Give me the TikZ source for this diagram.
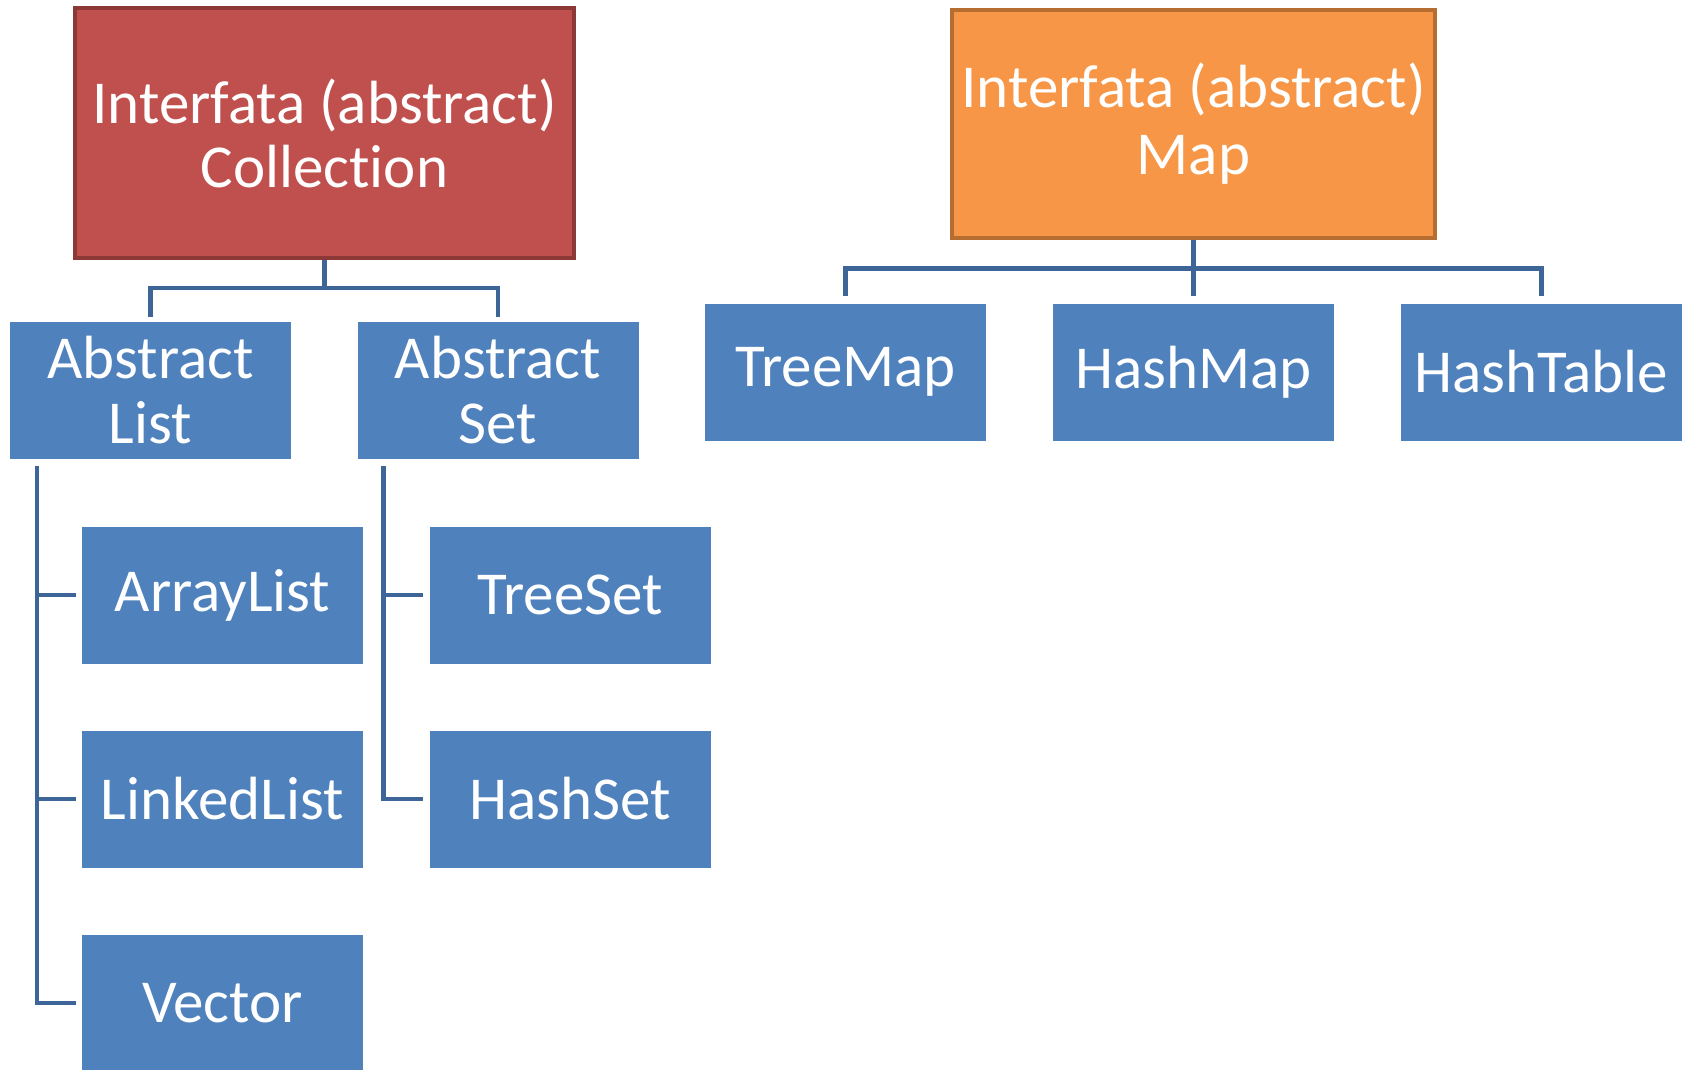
\documentclass[tikz,border=0pt]{standalone}
\usepackage{fontspec}
\setmainfont{Carlito}[Ligatures=NoCommon]
\definecolor{redfill}{HTML}{C0504D}
\definecolor{redline}{HTML}{8C3836}
\definecolor{orfill}{HTML}{F79646}
\definecolor{orline}{HTML}{B66D31}
\definecolor{bluefill}{HTML}{4F81BD}
\definecolor{connblue}{HTML}{3D6597}
\begin{document}
\begin{tikzpicture}[x=1pt,y=-1pt,
  every node/.style={text=white,align=center,inner sep=0pt,font=\fontsize{61}{67}\selectfont},
  topbox/.style={draw,line width=4pt,minimum width=#1},
  bluebox/.style={fill=bluefill,minimum width=281pt,minimum height=137pt},
  conn/.style={draw=connblue,line width=4.5pt}]
\useasboundingbox (0,0) rectangle (1683,1069);
\node[topbox=499pt,fill=redfill,draw=redline,minimum height=250pt] (coll) at (324.5,133) {Interfata (abstract)\\[-3pt]Collection};
\node[topbox=483pt,fill=orfill,draw=orline,minimum height=228pt] (map) at (1193.5,124) {Interfata (abstract)\\Map};
\node[bluebox] (alist) at (150.5,390.5) {Abstract\\[-2pt]List};
\node[bluebox] (aset) at (498,390.5) {Abstract\\[-2pt]Set};
\node[bluebox] (tmap) at (845.5,372) {TreeMap};
\node[bluebox] (hmap) at (1193.5,372) {HashMap};
\node[bluebox] (htab) at (1541.5,372) {HashTable};
\node[bluebox] (arr) at (222.5,595) {ArrayList};
\node[bluebox] (lnk) at (222.5,799) {LinkedList};
\node[bluebox] (vec) at (222.5,1003) {Vector};
\node[bluebox] (tset) at (570,595) {TreeSet};
\node[bluebox] (hset) at (570,799) {HashSet};
% Collection connectors
\draw[conn] (coll.south) -- ++(0,28);
\draw[conn] ([yshift=5pt]alist.north) -- ++(0,-29) -| ([yshift=5pt]aset.north);
% Map connectors
\draw[conn] (map.south) -- ([yshift=7pt]hmap.north);
\draw[conn] ([yshift=7pt]tmap.north) -- ++(0,-28) -| ([yshift=7pt]htab.north);
% List spine
\coordinate (ls) at ([xshift=27pt,yshift=-7pt]alist.south west);
\draw[conn] (ls) |- ([xshift=-6pt]vec.west);
\draw[conn] (ls |- arr.west) -- ([xshift=-6pt]arr.west);
\draw[conn] (ls |- lnk.west) -- ([xshift=-6pt]lnk.west);
% Set spine
\coordinate (ss) at ([xshift=26pt,yshift=-7pt]aset.south west);
\draw[conn] (ss) |- ([xshift=-6pt]hset.west);
\draw[conn] (ss |- tset.west) -- ([xshift=-6pt]tset.west);
\end{tikzpicture}
\end{document}
